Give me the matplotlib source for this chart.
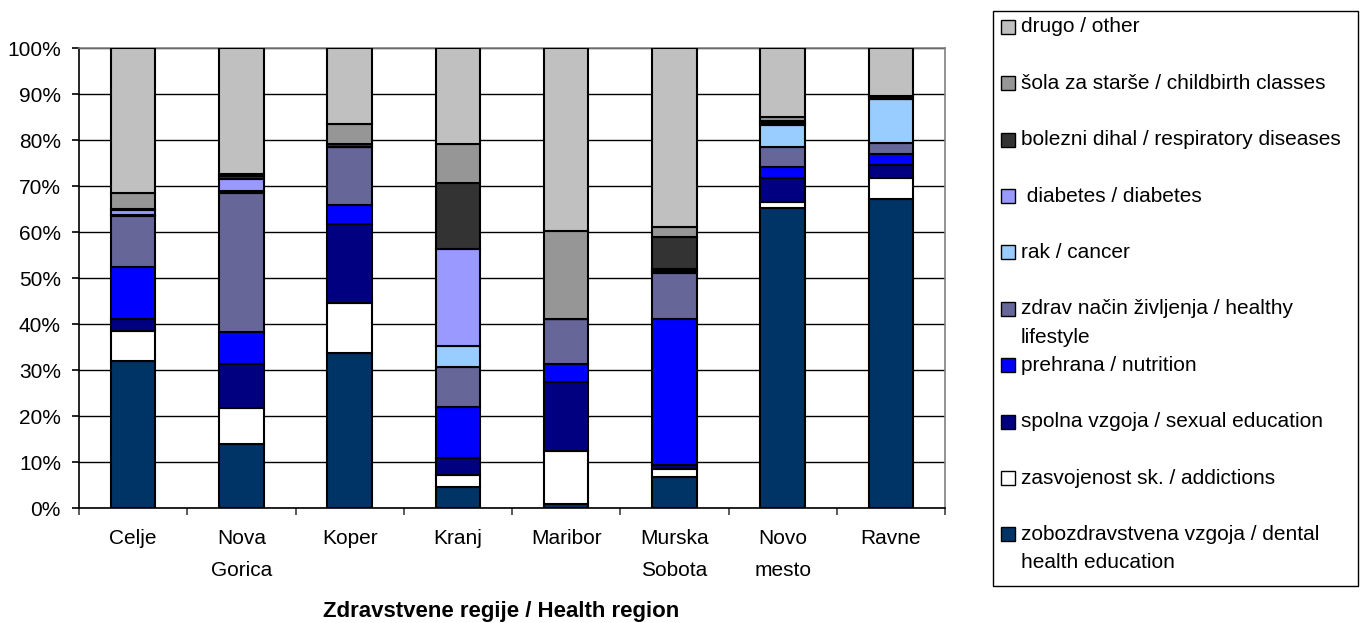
import matplotlib
matplotlib.use("Agg")
import matplotlib.pyplot as plt
from matplotlib.patches import Rectangle
import numpy as np

plt.rcParams['font.family'] = ['Liberation Sans', 'DejaVu Sans']

regions = ["Celje", "Nova\nGorica", "Koper", "Kranj", "Maribor",
           "Murska\nSobota", "Novo\nmesto", "Ravne"]

# series, bottom to top (percent)
dental      = [32.1, 13.9, 33.8,  4.6,  0.9,  6.9, 65.3, 67.1]
addictions  = [ 6.5,  7.8, 10.7,  2.6, 11.6,  1.6,  1.3,  4.6]
sexual      = [ 2.6,  9.7, 17.2,  3.7, 14.9,  0.9,  5.1,  2.9]
nutrition   = [11.3,  6.8,  4.2, 11.2,  4.0, 31.8,  2.5,  2.3]
healthy     = [10.9, 30.4, 12.7,  8.7,  9.8, 10.0,  4.4,  2.5]
cancer      = [ 0.4,  0.4,  0.0,  4.5,  0.0,  0.3,  4.7,  9.5]
diabetes    = [ 1.0,  2.5,  0.0, 21.1,  0.0,  0.5,  0.4,  0.0]
respiratory = [ 0.3,  0.6,  0.5, 14.3,  0.0,  6.9,  0.4,  0.4]
childbirth  = [ 3.5,  0.5,  4.3,  8.4, 19.1,  2.3,  1.0,  0.3]
other       = [31.4, 27.4, 16.6, 20.9, 39.7, 38.7, 14.9, 10.4]

series = [dental, addictions, sexual, nutrition, healthy, cancer,
          diabetes, respiratory, childbirth, other]
labels = ["zobozdravstvena vzgoja / dental\nhealth education",
          "zasvojenost sk. / addictions",
          "spolna vzgoja / sexual education",
          "prehrana / nutrition",
          "zdrav način življenja / healthy\nlifestyle",
          "rak / cancer",
          " diabetes / diabetes",
          "bolezni dihal / respiratory diseases",
          "šola za starše / childbirth classes",
          "drugo / other"]
colors = ["#003366", "#FFFFFF", "#000080", "#0000FF", "#666699",
          "#99CCFF", "#9999FF", "#333333", "#969696", "#C0C0C0"]

W, H = 1369, 623
FS = 15
fig = plt.figure(figsize=(W / 100, H / 100), dpi=100)
ax = fig.add_axes([79 / W, 1 - 508.3 / H, (945 - 79) / W, (508.3 - 48) / H])

x = np.arange(len(regions))
bottom = np.zeros(len(regions))
for vals, col, lab in zip(series, colors, labels):
    v = np.array(vals)
    ax.bar(x, v, 0.41, bottom=bottom, color=col, edgecolor="black",
           linewidth=1.5, label=lab, zorder=3)
    bottom += v

ax.set_xlim(-0.5, len(regions) - 0.5)
ax.set_ylim(0, 100)
ax.set_yticks(np.arange(0, 101, 10))
ax.set_yticklabels([f"{t}%" for t in range(0, 101, 10)], fontsize=FS)
ax.yaxis.grid(True, color="black", linewidth=1.0, zorder=0)
ax.set_axisbelow(True)
ax.set_xticks(x)
ax.set_xticklabels(regions, fontsize=FS, linespacing=1.85)
ax.set_xticks(np.arange(-0.5, len(regions), 1), minor=True)
ax.tick_params(axis="x", which="major", length=0, pad=15)
ax.tick_params(axis="x", which="minor", length=5, width=1.2, color="#404040", direction="out")
ax.tick_params(axis="y", length=5, width=1.2, direction="out", pad=8)
for s in ["left", "bottom"]:
    ax.spines[s].set_color("black")
    ax.spines[s].set_linewidth(1.2)
for s in ["top", "right"]:
    ax.spines[s].set_color("#808080")
    ax.spines[s].set_linewidth(1.2)

fig.text(501 / W, 1 - 611.7 / H, "Zdravstvene regije / Health region",
         ha="center", va="center", fontsize=16, fontweight="bold")

# legend drawn manually (top entry = last series)
box_l, box_r, box_t, box_b = 993, 1358, 10.7, 586
fig.patches.append(Rectangle((box_l / W, 1 - box_b / H), (box_r - box_l) / W,
                             (box_b - box_t) / H, transform=fig.transFigure,
                             facecolor="white", edgecolor="black", linewidth=1.0))
slot = 56.4
for i, (lab, col) in enumerate(zip(labels[::-1], colors[::-1])):
    yc = 26.8 + i * slot
    sq = 14
    fig.patches.append(Rectangle((1001 / W, 1 - (yc + sq / 2) / H), sq / W, sq / H,
                                 transform=fig.transFigure, facecolor=col,
                                 edgecolor="black", linewidth=1.0))
    for j, line in enumerate(lab.split("\n")):
        fig.text(1021 / W, 1 - (yc + j * 28.5) / H, line, ha="left",
                 va="center", fontsize=FS)

fig.savefig("out.png", dpi=100)
